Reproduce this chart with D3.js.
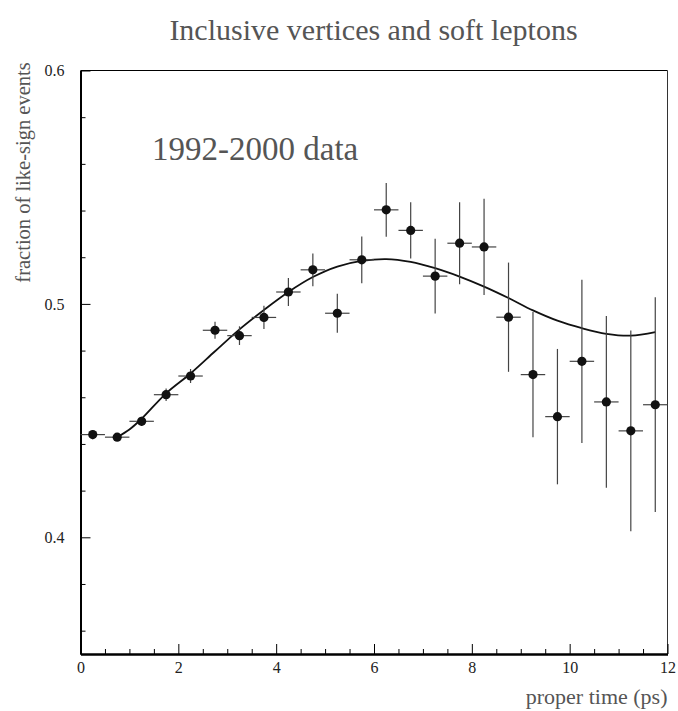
<!DOCTYPE html>
<html>
<head>
<meta charset="utf-8">
<script src="https://cdn.jsdelivr.net/npm/d3@7"></script>
<style>
  html, body { margin: 0; padding: 0; background: #fff; }
  svg { display: block; }
  text { font-family: "Liberation Serif", "Times New Roman", serif; }
</style>
</head>
<body>
<svg id="chart" width="678" height="711"></svg>
<script>
// ---- data ----
const binCenters = [0.25, 0.75, 1.25, 1.75, 2.25, 2.75, 3.25, 3.75, 4.25, 4.75, 5.25, 5.75,
                    6.25, 6.75, 7.25, 7.75, 8.25, 8.75, 9.25, 9.75, 10.25, 10.75, 11.25, 11.75];
const binHalfWidth = 0.25;
const likeSignFraction = [0.4440, 0.4429, 0.4497, 0.4611, 0.4691, 0.4887, 0.4864, 0.4942,
                          0.5051, 0.5146, 0.4960, 0.5189, 0.5403, 0.5315, 0.5119, 0.5260,
                          0.5244, 0.4943, 0.4697, 0.4517, 0.4754, 0.4580, 0.4456, 0.4568];
const fractionError = [0.0020, 0.0015, 0.0020, 0.0027, 0.0030, 0.0036, 0.0040, 0.0050,
                       0.0060, 0.0070, 0.0084, 0.0100, 0.0115, 0.0120, 0.0160, 0.0176,
                       0.0206, 0.0234, 0.0268, 0.0290, 0.0350, 0.0368, 0.0430, 0.0460];
const fitTime  = [0.75, 1.0, 1.25, 1.75, 2.25, 2.75, 3.25, 3.75, 4.25, 4.75, 5.25, 5.75,
                  6.25, 6.75, 7.25, 7.75, 8.25, 8.75, 9.25, 9.75, 10.25, 10.75, 11.25, 11.75];
const fitValue = [0.4429, 0.4462, 0.4508, 0.4617, 0.4702, 0.4797, 0.4891, 0.4974,
                  0.5051, 0.5115, 0.5160, 0.5184, 0.5192, 0.5180, 0.5153, 0.5117,
                  0.5074, 0.5025, 0.4972, 0.4928, 0.4896, 0.4872, 0.4864, 0.4879];
const xMajorTicks = [0, 2, 4, 6, 8, 10, 12];
const xMinorTicks = [0.5, 1, 1.5, 2.5, 3, 3.5, 4.5, 5, 5.5, 6.5, 7, 7.5, 8.5, 9, 9.5, 10.5, 11, 11.5];
const yMajorTicks = [0.4, 0.5, 0.6];
const yMinorTicks = [0.36, 0.38, 0.42, 0.44, 0.46, 0.48, 0.52, 0.54, 0.56, 0.58];
const titleText = "Inclusive vertices and soft leptons";
const annotationText = "1992-2000 data";
const xLabel = "proper time (ps)";
const yLabel = "fraction of like-sign events";

// ---- layout ----
const L = 80.5, R = 667.5, T = 70.5, B = 654;
const svg = d3.select("#chart");
const x = d3.scaleLinear().domain([0, 12]).range([L, R]);
const y = d3.scaleLinear().domain([0.35, 0.6]).range([B, T]);

// frame (top/right thin)
svg.append("line").attr("x1", L).attr("x2", R).attr("y1", T).attr("y2", T)
  .attr("stroke", "#000").attr("stroke-width", 1);
svg.append("line").attr("x1", R).attr("x2", R).attr("y1", T).attr("y2", B)
  .attr("stroke", "#333").attr("stroke-width", 1);

// axes
function styleAxis(g, width) {
  g.select(".domain").attr("stroke", "#000").attr("stroke-width", width);
  g.selectAll(".tick line").attr("stroke", "#000").attr("stroke-width", 1);
  g.selectAll(".tick text").attr("fill", "#222").style("font-size", "16px")
    .style("font-family", "'Liberation Serif', serif");
}
svg.append("g").attr("transform", `translate(0,${B})`)
  .call(d3.axisBottom(x).tickValues(xMinorTicks).tickSize(-5).tickSizeOuter(0).tickFormat(""))
  .call(g => styleAxis(g, 2));
svg.append("g").attr("transform", `translate(0,${B})`)
  .call(d3.axisBottom(x).tickValues(xMajorTicks).tickSize(-10).tickSizeOuter(0).tickPadding(8).tickFormat(d3.format("d")))
  .call(g => styleAxis(g, 2));
svg.append("g").attr("transform", `translate(${L},0)`)
  .call(d3.axisLeft(y).tickValues(yMinorTicks).tickSize(-5).tickSizeOuter(0).tickFormat(""))
  .call(g => styleAxis(g, 2));
svg.append("g").attr("transform", `translate(${L},0)`)
  .call(d3.axisLeft(y).tickValues(yMajorTicks).tickSize(-10).tickSizeOuter(0).tickPadding(16).tickFormat(d3.format(".1f")))
  .call(g => styleAxis(g, 2));

// fit curve
const line = d3.line().x((d, i) => x(fitTime[i])).y(d => y(d)).curve(d3.curveCatmullRom);
svg.append("path").attr("d", line(fitValue))
  .attr("fill", "none").attr("stroke", "#111").attr("stroke-width", 1.8);

// error bars and points
const pts = svg.append("g");
binCenters.forEach((t, i) => {
  const v = likeSignFraction[i], e = fractionError[i];
  pts.append("line").attr("x1", x(t - binHalfWidth)).attr("x2", x(t + binHalfWidth))
    .attr("y1", y(v)).attr("y2", y(v)).attr("stroke", "#444").attr("stroke-width", 1.2);
  pts.append("line").attr("x1", x(t)).attr("x2", x(t))
    .attr("y1", y(v - e)).attr("y2", y(v + e)).attr("stroke", "#444").attr("stroke-width", 1.2);
  pts.append("circle").attr("cx", x(t)).attr("cy", y(v)).attr("r", 4.6).attr("fill", "#111");
});

// texts
svg.append("text").attr("x", 373.5).attr("y", 40).attr("text-anchor", "middle")
  .attr("fill", "#555").style("font-size", "30px").text(titleText);
svg.append("text").attr("x", 152).attr("y", 160)
  .attr("fill", "#555").style("font-size", "33px").text(annotationText);
svg.append("text").attr("x", R).attr("y", 704).attr("text-anchor", "end")
  .attr("fill", "#555").style("font-size", "22px").text(xLabel);
svg.append("text").attr("transform", "translate(30,172.5) rotate(-90)").attr("text-anchor", "middle")
  .attr("fill", "#555").style("font-size", "20.5px").text(yLabel);
</script>
</body>
</html>
